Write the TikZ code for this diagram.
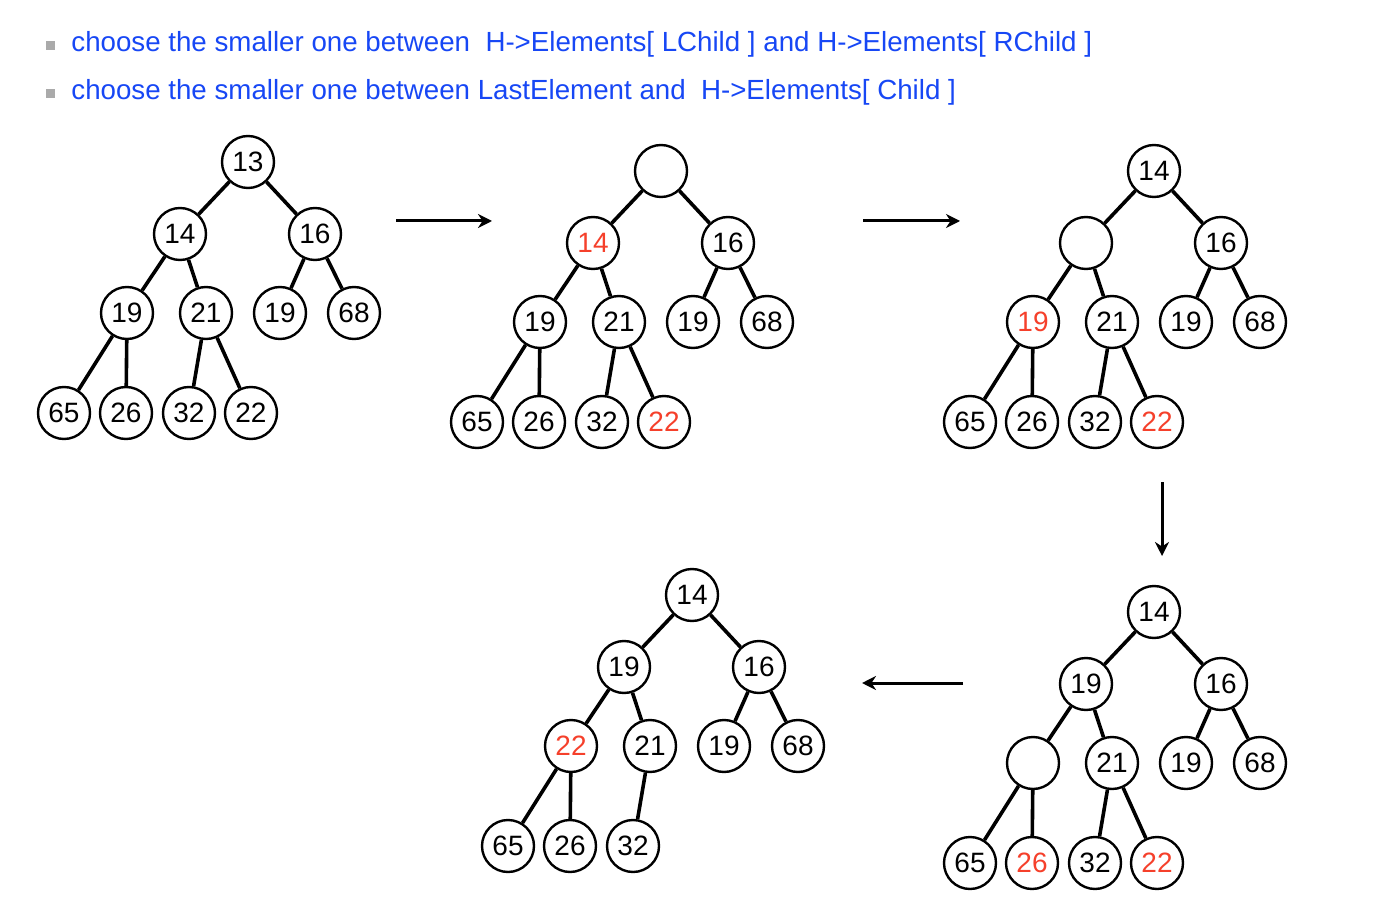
\documentclass[tikz,border=0pt]{standalone}
\usepackage{fontspec}
\setmainfont{Liberation Sans}
\usetikzlibrary{arrows.meta}
\definecolor{textblue}{HTML}{1747F5}
\definecolor{keyred}{HTML}{F5402B}
\definecolor{bulletgray}{HTML}{AAAAAA}
\newcommand\hl[1]{\textcolor{keyred}{#1}}
\tikzset{
    key/.style={circle, draw, line width=1.2pt, minimum size=26pt, inner sep=0pt, font=\fontsize{14}{15}\selectfont},
    edge/.style={line width=1.8pt},
    step arrow/.style={line width=1.5pt, -{Stealth[length=7pt,width=7pt]}},
    caption/.style={anchor=west, text=textblue, font=\fontsize{13.85}{15}\selectfont, inner sep=0pt}
}
\begin{document}
\begin{tikzpicture}[x=0.5pt, y=-0.5pt]
    \useasboundingbox (0,0) rectangle (1386,914);
    % bullets
    \fill[bulletgray] (46,41) rectangle (55,50);
    \fill[bulletgray] (46,89) rectangle (55,98);
    \node[caption] (line1) at (71,44) {choose the smaller one between\ \ H->Elements[ LChild ] and H->Elements[ RChild ]};
    \node[caption] (line2) at (71,92) {choose the smaller one between LastElement and\ \ H->Elements[ Child ]};
    % start
    \begin{scope}
        \foreach \n/\x/\y/\t in {r/248/162/13, a/180/234/14, b/315/234/16,
            c/127/313/19, d/206/313/21, e/280/313/19, f/354/313/68,
            g/64/413/65, h/126/413/26, i/189/413/32, j/251/413/22}
            \node[key] (A\n) at (\x,\y) {\t};
    \end{scope}
    % root taken out
    \begin{scope}[shift={(413,9)}]
        \foreach \n/\x/\y/\t in {r/248/162/{}, a/180/234/{\hl{14}}, b/315/234/16,
            c/127/313/19, d/206/313/21, e/280/313/19, f/354/313/68,
            g/64/413/65, h/126/413/26, i/189/413/32, j/251/413/{\hl{22}}}
            \node[key] (B\n) at (\x,\y) {\t};
    \end{scope}
    \begin{scope}[shift={(906,9)}]
        \foreach \n/\x/\y/\t in {r/248/162/14, a/180/234/{}, b/315/234/16,
            c/127/313/{\hl{19}}, d/206/313/21, e/280/313/19, f/354/313/68,
            g/64/413/65, h/126/413/26, i/189/413/32, j/251/413/{\hl{22}}}
            \node[key] (C\n) at (\x,\y) {\t};
    \end{scope}
    \begin{scope}[shift={(906,450)}]
        \foreach \n/\x/\y/\t in {r/248/162/14, a/180/234/19, b/315/234/16,
            c/127/313/{}, d/206/313/21, e/280/313/19, f/354/313/68,
            g/64/413/65, h/126/413/{\hl{26}}, i/189/413/32, j/251/413/{\hl{22}}}
            \node[key] (D\n) at (\x,\y) {\t};
    \end{scope}
    % 22 moved up
    \begin{scope}[shift={(444,433)}]
        \foreach \n/\x/\y/\t in {r/248/162/14, a/180/234/19, b/315/234/16,
            c/127/313/{\hl{22}}, d/206/313/21, e/280/313/19, f/354/313/68,
            g/64/413/65, h/126/413/26, i/189/413/32}
            \node[key] (E\n) at (\x,\y) {\t};
    \end{scope}
    % edges
    \foreach \t in {A,B,C,D}
        \foreach \p/\c in {r/a, r/b, a/c, a/d, b/e, b/f, c/g, c/h, d/i, d/j}
            \draw[edge] (\t\p) -- (\t\c);
    \foreach \p/\c in {r/a, r/b, a/c, a/d, b/e, b/f, c/g, c/h, d/i}
        \draw[edge] (E\p) -- (E\c);
    % steps
    \coordinate (s1) at (396,221);
    \coordinate (t1) at (492,221);
    \coordinate (s2) at (863,221);
    \coordinate (t2) at (960,221);
    \coordinate (s3) at (1162,482);
    \coordinate (t3) at (1162,556);
    \coordinate (s4) at (963,683);
    \coordinate (t4) at (862,683);
    \foreach \k in {1,...,4}
        \draw[step arrow] (s\k) -- (t\k);
\end{tikzpicture}
\end{document}
